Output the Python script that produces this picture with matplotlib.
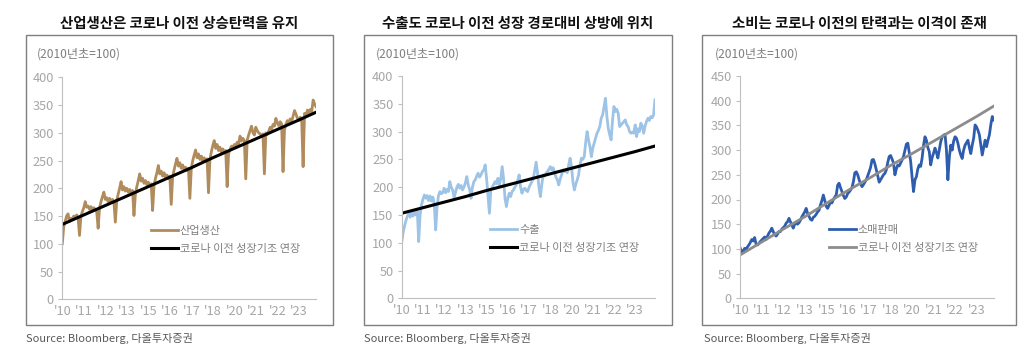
import numpy as np
import matplotlib
matplotlib.use("Agg")
import matplotlib.pyplot as plt
from matplotlib.patches import Rectangle

plt.rcParams['font.family'] = ['Noto Sans CJK KR', 'DejaVu Sans']

# x축 라벨 (15개월 간격)
tick_labels = ["'10", "'11", "'12", "'13", "'15", "'16", "'17", "'18", "'20", "'21", "'22", "'23"]

# 산업생산 (2010년초=100)
ind_prod = [100, 131, 140, 150, 154, 140, 146, 144, 150, 147, 152, 148,
            115, 150, 158, 165, 176, 166, 168, 162, 167, 160, 165, 162, 158,
            128, 165, 176, 185, 193, 180, 183, 176, 182, 174, 180, 176,
            139, 178, 190, 200, 212, 197, 203, 195, 200, 193, 198, 192, 196,
            151, 190, 203, 214, 226, 213, 218, 209, 214, 206, 211, 205, 208,
            160, 205, 218, 228, 241, 226, 231, 222, 228, 219, 224, 218, 222,
            171, 221, 233, 244, 254, 240, 246, 236, 242, 233, 238, 232, 236,
            182, 236, 250, 260, 269, 255, 262, 252, 258, 249, 255, 248, 253,
            192, 252, 266, 277, 286, 272, 279, 268, 274, 265, 271, 264, 268,
            203, 262, 270, 276, 272, 279, 275, 283, 280, 294, 285, 290, 286,
            217, 287, 296, 304, 312, 300, 296, 310, 304, 300, 298, 295, 298,
            226, 300, 297, 303, 310, 306, 315, 312, 326, 318, 313, 320, 316,
            230, 305, 315, 322, 318, 325, 320, 330, 340, 334, 326, 322, 328, 325,
            239, 335, 330, 341, 336, 342, 338, 359, 352, 347]
ind_trend_idx = [0, 15, 30, 45, 60, 75, 90, 105, 120, 135, 150, 165, 177]
ind_trend = [135, 152, 169, 186, 203, 220, 237, 255, 272, 289, 306, 323, 337]

# 수출
exports = [100, 118, 130, 140, 148, 152, 146, 155, 148, 157, 150, 160,
           102, 150, 168, 178, 186, 180, 185, 176, 184, 175, 182, 170, 123,
           165, 185, 192, 188, 190, 198, 190, 196, 192, 210, 200, 195,
           182, 190, 200, 205, 198, 203, 195, 200, 208, 219, 204, 196, 180,
           200, 210, 213, 220, 225, 218, 222, 228, 231, 240, 215, 185, 153,
           195, 200, 205, 210, 206, 216, 204, 215, 237, 215, 180, 165, 180,
           189, 183, 192, 195, 200, 204, 212, 222, 200, 189, 196, 198, 194,
           192, 200, 205, 210, 215, 230, 245, 225, 200, 183, 205, 222, 220,
           225, 228, 232, 237, 231, 235, 226, 218, 213, 204, 215, 222, 231,
           228, 230, 226, 240, 252, 237, 210, 195, 205, 213, 222, 240, 252,
           250, 255, 280, 300, 285, 273, 255, 270, 279, 288, 297, 302, 309,
           324, 330, 345, 360, 327, 305, 294, 285, 321, 345, 336, 340, 333,
           309, 312, 315, 318, 321, 312, 309, 300, 297, 299, 297, 312, 291,
           305, 300, 315, 310, 297, 310, 318, 324, 320, 327, 325, 330, 357]
exp_trend_idx = [0, 15, 30, 45, 60, 75, 90, 105, 120, 135, 150, 165, 179]
exp_trend = [153, 163, 173, 183, 194, 204, 214, 224, 234, 244, 254, 264, 274]

# 소매판매
retail = [101, 92, 96, 101, 99, 104, 108, 113, 119, 116, 123, 110, 108,
          111, 115, 118, 121, 124, 119, 126, 132, 136, 142, 135, 129,
          126, 130, 135, 135, 140, 143, 146, 152, 155, 162, 155, 148,
          142, 150, 152, 150, 153, 158, 165, 170, 175, 182, 172, 166,
          160, 158, 164, 166, 170, 175, 178, 189, 198, 209, 198, 186,
          182, 188, 195, 193, 200, 205, 209, 229, 233, 224, 216, 208,
          202, 205, 212, 215, 219, 224, 236, 254, 256, 250, 240, 232,
          226, 230, 235, 240, 248, 256, 265, 280, 281, 272, 260, 248,
          235, 240, 245, 250, 253, 260, 275, 287, 289, 282, 274, 250,
          262, 270, 268, 274, 280, 287, 300, 312, 314, 295, 277, 245,
          216, 240, 246, 262, 270, 267, 284, 310, 327, 320, 305, 297,
          270, 285, 294, 304, 295, 284, 300, 317, 327, 330, 332, 300,
          240, 285, 310, 300, 318, 327, 324, 314, 300, 290, 283, 300,
          310, 315, 320, 305, 293, 310, 324, 351, 347, 340, 331, 310,
          290, 305, 320, 307, 320, 331, 352, 368, 361]
ret_trend_idx = [0, 15, 30, 45, 60, 75, 90, 105, 120, 135, 150, 165, 177]
ret_trend = [88, 114, 140, 165, 192, 218, 243, 269, 293, 318, 343, 368, 389]

W, H = 1023, 345
fig = plt.figure(figsize=(W / 100, H / 100), dpi=100)

def fx(px):
    return px / W

def fy(py):
    return 1 - py / H

panels = [
    dict(title="산업생산은 코로나 이전 상승탄력을 유지", box=(25.7, 333), ax_x=(62.3, 316), top=77.3, bot=299.3,
         unit_x=36.7, src_x=25.7, ymax=400,
         series=ind_prod, s_label="산업생산", s_color="#B08B5B", s_lw=2.0,
         t_idx=ind_trend_idx, trend=ind_trend, t_color="#000000", t_lw=2.2),
    dict(title="수출도 코로나 이전 성장 경로대비 상방에 위치", box=(364, 671.7), ax_x=(401.7, 655), top=76, bot=298.3,
         unit_x=376, src_x=364, ymax=400,
         series=exports, s_label="수출", s_color="#9DC3E6", s_lw=2.0,
         t_idx=exp_trend_idx, trend=exp_trend, t_color="#000000", t_lw=2.2),
    dict(title="소비는 코로나 이전의 탄력과는 이격이 존재", box=(702.3, 1016), ax_x=(740.3, 993.7), top=76, bot=298.3,
         unit_x=714.7, src_x=703.7, ymax=450,
         series=retail, s_label="소매판매", s_color="#2F5DAE", s_lw=2.0,
         t_idx=ret_trend_idx, trend=ret_trend, t_color="#8C8C8C", t_lw=2.0),
]

for p in panels:
    # 테두리 박스
    bx0, bx1 = p['box']
    fig.patches.append(Rectangle((fx(bx0), fy(325)), fx(bx1 - bx0), (325 - 35) / H,
                                 transform=fig.transFigure, fill=False,
                                 edgecolor="#7F7F7F", linewidth=1.0))
    fig.text(fx((bx0 + bx1) / 2), fy(24), p['title'], ha='center', va='center',
             fontsize=10.4, fontweight='bold', color='#111111')
    fig.text(fx(p['unit_x']), fy(54), "(2010년초=100)", ha='left', va='center',
             fontsize=8.7, color='#7F7F7F')
    fig.text(fx(p['src_x']), fy(338), "Source: Bloomberg, 다올투자증권", ha='left', va='center',
             fontsize=8, color='#595959')

    x0, x1 = p['ax_x']
    ax = fig.add_axes([fx(x0), fy(p['bot']), fx(x1 - x0), (p['bot'] - p['top']) / H])
    s = p['series']
    ax.plot(np.arange(len(s)), s, color=p['s_color'], lw=p['s_lw'], label=p['s_label'],
            solid_joinstyle='round')
    ax.plot(p['t_idx'], p['trend'], color=p['t_color'], lw=p['t_lw'], label="코로나 이전 성장기조 연장")

    ax.set_xlim(0, len(s) - 1)
    ax.set_ylim(0, p['ymax'])
    ax.set_yticks(np.arange(0, p['ymax'] + 1, 50))
    ax.set_xticks(np.arange(0, 15 * len(tick_labels), 15))
    ax.set_xticklabels(tick_labels)
    ax.tick_params(axis='y', length=3, width=0.8, color='#BFBFBF', labelcolor='#A6A6A6',
                   labelsize=9.2, pad=3)
    ax.tick_params(axis='x', length=0, labelcolor='#A6A6A6', labelsize=9.2, pad=4)
    for side in ['top', 'right']:
        ax.spines[side].set_visible(False)
    for side in ['left', 'bottom']:
        ax.spines[side].set_color('#BFBFBF')
        ax.spines[side].set_linewidth(0.8)
    ax.set_facecolor('none')

    leg = ax.legend(loc='upper left', bbox_to_anchor=(0.35, 0.33), frameon=False,
                    fontsize=8, handlelength=2.4, handletextpad=0.2, labelspacing=0.7,
                    borderpad=0, borderaxespad=0)
    for t in leg.get_texts():
        t.set_color('#7F7F7F')

fig.savefig("out.png", dpi=100)
